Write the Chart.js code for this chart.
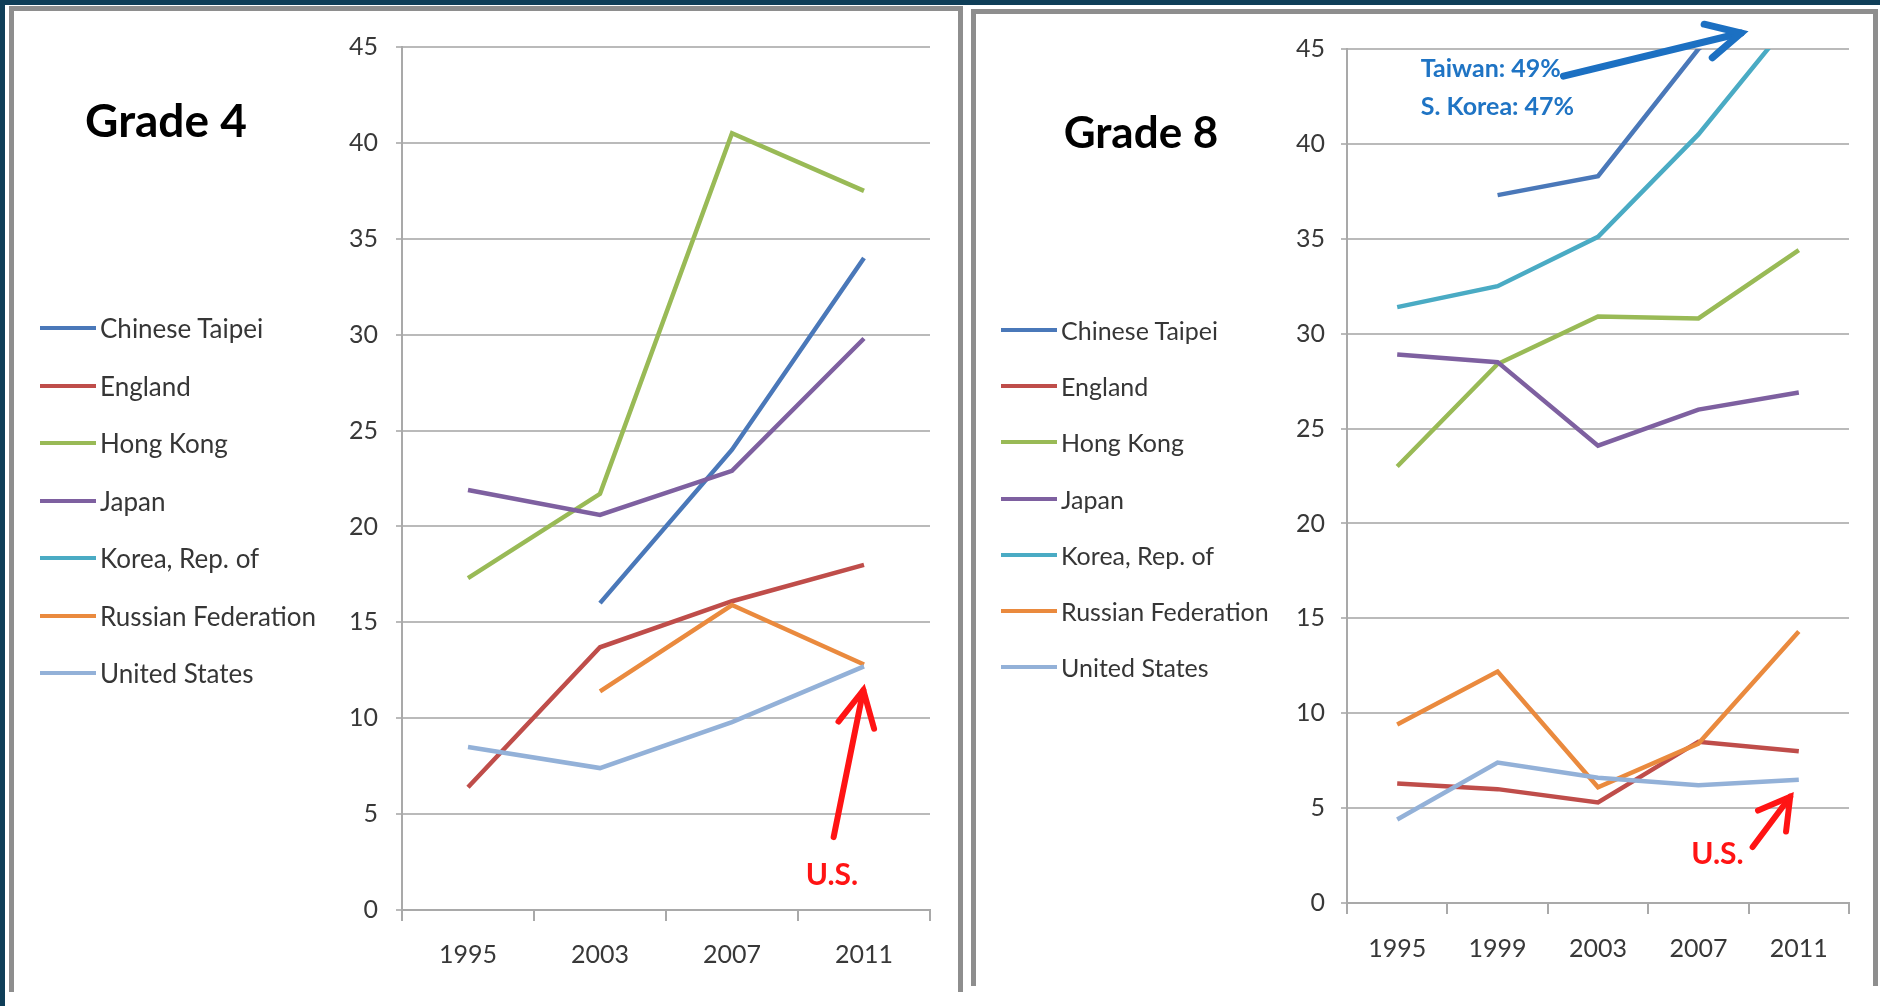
<!DOCTYPE html>
<html>
<head>
<meta charset="utf-8">
<title>Advanced benchmark trends, Grade 4 and Grade 8</title>
<script src="https://cdn.jsdelivr.net/npm/chart.js@4.4.1/dist/chart.umd.min.js"></script>
<style>
  html, body { margin: 0; padding: 0; background: #fff; }
  #page { position: relative; width: 1880px; height: 1006px; overflow: hidden; background: #fff; font-family: Lato, "Open Sans", sans-serif; }
  .band-top { position: absolute; left: 0; top: 0; width: 1880px; height: 5px; background: #0f3e58; }
  .band-left { position: absolute; left: 0; top: 0; width: 5px; height: 1006px; background: #0f3e58; }
  .frame { position: absolute; box-sizing: border-box; border: 5px solid #8e8e8e; border-bottom: none; filter: blur(0.6px); }
  canvas { position: absolute; top: 0; }
  .title { position: absolute; font-weight: 700; color: #000; white-space: nowrap; transform: translate(-50%, -50%); }
  .legend-item { position: absolute; height: 30px; line-height: 30px; white-space: nowrap; color: #363636; }
  .legend-item .swatch { position: absolute; top: 13px; height: 4px; }
  .legend-item .name { position: absolute; top: 0; }
</style>
</head>
<body>
<div id="page">
  <div class="band-top"></div>
  <div class="band-left"></div>
  <div class="frame" style="left:9px; top:6px; width:954px; height:986px;"></div>
  <div class="frame" style="left:971px; top:9px; width:907px; height:977px;"></div>
  <canvas id="grade4" width="960" height="1006" style="left:0px;"></canvas>
  <canvas id="grade8" width="920" height="1006" style="left:960px;"></canvas>
  <div class="title" style="left:166px; top:119px; font-size:46px;">Grade 4</div>
  <div class="title" style="left:1141px; top:131px; font-size:44px;">Grade 8</div>
  <div id="legend4"></div>
  <div id="legend8"></div>
</div>
<script>
// Countries and their series colours (same order in both panels)
const countries = ['Chinese Taipei', 'England', 'Hong Kong', 'Japan', 'Korea, Rep. of', 'Russian Federation', 'United States'];
const seriesColors = ['#4a78b9', '#bf4d4a', '#99ba56', '#7e60a0', '#4aabc4', '#ea8a3e', '#93b1d8'];

// Grade 4: percent of students reaching the advanced benchmark
const grade4Years = ['1995', '2003', '2007', '2011'];
const g4ChineseTaipei = [null, 16, 24, 34];
const g4England       = [6.4, 13.7, 16.1, 18];
const g4HongKong      = [17.3, 21.7, 40.5, 37.5];
const g4Japan         = [21.9, 20.6, 22.9, 29.8];
const g4Korea         = [null, null, null, null];
const g4Russia        = [null, 11.4, 15.9, 12.8];
const g4UnitedStates  = [8.5, 7.4, 9.8, 12.7];

// Grade 8
const grade8Years = ['1995', '1999', '2003', '2007', '2011'];
const g8ChineseTaipei = [null, 37.3, 38.3, 45, 49];
const g8England       = [6.3, 6.0, 5.3, 8.5, 8.0];
const g8HongKong      = [23.0, 28.4, 30.9, 30.8, 34.4];
const g8Japan         = [28.9, 28.5, 24.1, 26.0, 26.9];
const g8Korea         = [31.4, 32.5, 35.1, 40.5, 47];
const g8Russia        = [9.4, 12.2, 6.1, 8.4, 14.3];
const g8UnitedStates  = [4.4, 7.4, 6.6, 6.2, 6.5];

// Value axis
const yMin = 0, yMax = 45, yStep = 5;

Chart.defaults.font.family = 'Lato, "Open Sans", sans-serif';

// Arrows and notes placed in data units (category index, value)
function calloutPlugin(items) {
  return {
    id: 'callouts',
    afterDraw(chart) {
      const ctx = chart.ctx;
      const xs = chart.scales.x, ys = chart.scales.y;
      const px = (i) => xs.getPixelForValue(i);
      const py = (v) => ys.getPixelForValue(v);
      ctx.save();
      items.forEach((it) => {
        if (it.kind === 'arrow') {
          const x1 = px(it.from[0]), y1 = py(it.from[1]);
          let x2 = px(it.to[0]), y2 = py(it.to[1]);
          const back = Math.atan2(y1 - y2, x1 - x2);
          const a = it.headAngle * Math.PI / 180;
          // pull the vertex back so the mitred point ends at the target
          const miter = it.width / (2 * Math.sin(a));
          x2 += Math.cos(back) * miter;
          y2 += Math.sin(back) * miter;
          ctx.strokeStyle = it.color;
          ctx.lineWidth = it.width;
          ctx.lineCap = 'round';
          ctx.lineJoin = 'miter';
          ctx.miterLimit = 10;
          ctx.beginPath();
          ctx.moveTo(x1, y1);
          ctx.lineTo(x2, y2);
          ctx.stroke();
          ctx.beginPath();
          ctx.moveTo(x2 + Math.cos(back - a) * it.headLen, y2 + Math.sin(back - a) * it.headLen);
          ctx.lineTo(x2, y2);
          ctx.lineTo(x2 + Math.cos(back + a) * it.headLen, y2 + Math.sin(back + a) * it.headLen);
          ctx.stroke();
        } else {
          ctx.fillStyle = it.color;
          ctx.font = it.font;
          ctx.textAlign = it.align;
          ctx.textBaseline = 'middle';
          ctx.fillText(it.text, px(it.at[0]), py(it.at[1]));
        }
      });
      ctx.restore();
    }
  };
}

function buildChart(id, p) {
  return new Chart(document.getElementById(id), {
    type: 'line',
    data: {
      labels: p.years,
      datasets: countries.map((name, i) => ({
        label: name,
        data: p.series[i],
        borderColor: seriesColors[i],
        backgroundColor: seriesColors[i],
        borderWidth: 4.5,
        pointRadius: 0,
        pointHoverRadius: 0,
        tension: 0,
        clip: 0,
        order: countries.length - 1 - i
      }))
    },
    options: {
      responsive: false,
      animation: false,
      events: [],
      layout: { padding: { left: 0, top: p.top, right: p.right, bottom: p.bottom } },
      plugins: { legend: { display: false }, tooltip: { enabled: false } },
      scales: {
        x: {
          offset: true,
          grid: { offset: true, drawOnChartArea: false, drawTicks: true, tickLength: 11, color: '#a9a9a9', lineWidth: 2 },
          border: { display: true, color: '#a9a9a9', width: 2 },
          ticks: { color: '#383838', font: { size: 25 }, padding: p.xPad, maxRotation: 0 },
          afterFit: (s) => { s.height = p.xAxisHeight; }
        },
        y: {
          min: yMin, max: yMax,
          ticks: { stepSize: yStep, color: '#383838', font: { size: 25 }, padding: p.yPad },
          grid: { color: '#bababa', lineWidth: 2, tickLength: 6 },
          border: { display: true, color: '#a9a9a9', width: 2 },
          afterFit: (s) => { s.width = p.yAxisWidth; }
        }
      }
    },
    plugins: [calloutPlugin(p.callouts)]
  });
}

function buildLegend(id, left, firstY, step, fontSize, swatchLen) {
  const box = document.getElementById(id);
  countries.forEach((name, i) => {
    const item = document.createElement('div');
    item.className = 'legend-item';
    item.style.left = left + 'px';
    item.style.top = (firstY + step * i - 15) + 'px';
    const sw = document.createElement('span');
    sw.className = 'swatch';
    sw.style.left = '0px';
    sw.style.width = swatchLen + 'px';
    sw.style.background = seriesColors[i];
    const tx = document.createElement('span');
    tx.className = 'name';
    tx.style.left = (swatchLen + 4) + 'px';
    tx.style.fontSize = fontSize + 'px';
    tx.textContent = name;
    item.appendChild(sw);
    item.appendChild(tx);
    box.appendChild(item);
  });
}

buildChart('grade4', {
  years: grade4Years,
  series: [g4ChineseTaipei, g4England, g4HongKong, g4Japan, g4Korea, g4Russia, g4UnitedStates],
  top: 47, right: 30, bottom: 36, xAxisHeight: 60, yAxisWidth: 402, yPad: 18, xPad: 19,
  callouts: [
    { kind: 'arrow', from: [2.77, 3.8], to: [3.005, 11.8], color: '#ff1414', width: 6, headLen: 40, headAngle: 27 },
    { kind: 'text', text: 'U.S.', at: [2.757, 1.8], color: '#ff1414', font: 'bold 30px Lato, sans-serif', align: 'center' }
  ]
});

buildChart('grade8', {
  years: grade8Years,
  series: [g8ChineseTaipei, g8England, g8HongKong, g8Japan, g8Korea, g8Russia, g8UnitedStates],
  top: 49, right: 31, bottom: 43, xAxisHeight: 60, yAxisWidth: 387, yPad: 16, xPad: 20,
  callouts: [
    { kind: 'arrow', from: [3.54, 2.95], to: [3.95, 5.85], color: '#ff1414', width: 6, headLen: 35, headAngle: 30 },
    { kind: 'text', text: 'U.S.', at: [3.19, 2.55], color: '#ff1414', font: 'bold 30px Lato, sans-serif', align: 'center' },
    { kind: 'arrow', from: [1.656, 43.57], to: [3.5, 45.94], color: '#1c70c2', width: 7, headLen: 38, headAngle: 27 },
    { kind: 'text', text: 'Taiwan: 49%', at: [0.235, 43.95], color: '#1f74c4', font: 'bold 25px Lato, sans-serif', align: 'left' },
    { kind: 'text', text: 'S. Korea: 47%', at: [0.235, 41.95], color: '#1f74c4', font: 'bold 25px Lato, sans-serif', align: 'left' }
  ]
});

buildLegend('legend4', 40, 328, 57.5, 26, 56);
buildLegend('legend8', 1001, 330, 56.2, 25, 56);
</script>
</body>
</html>
